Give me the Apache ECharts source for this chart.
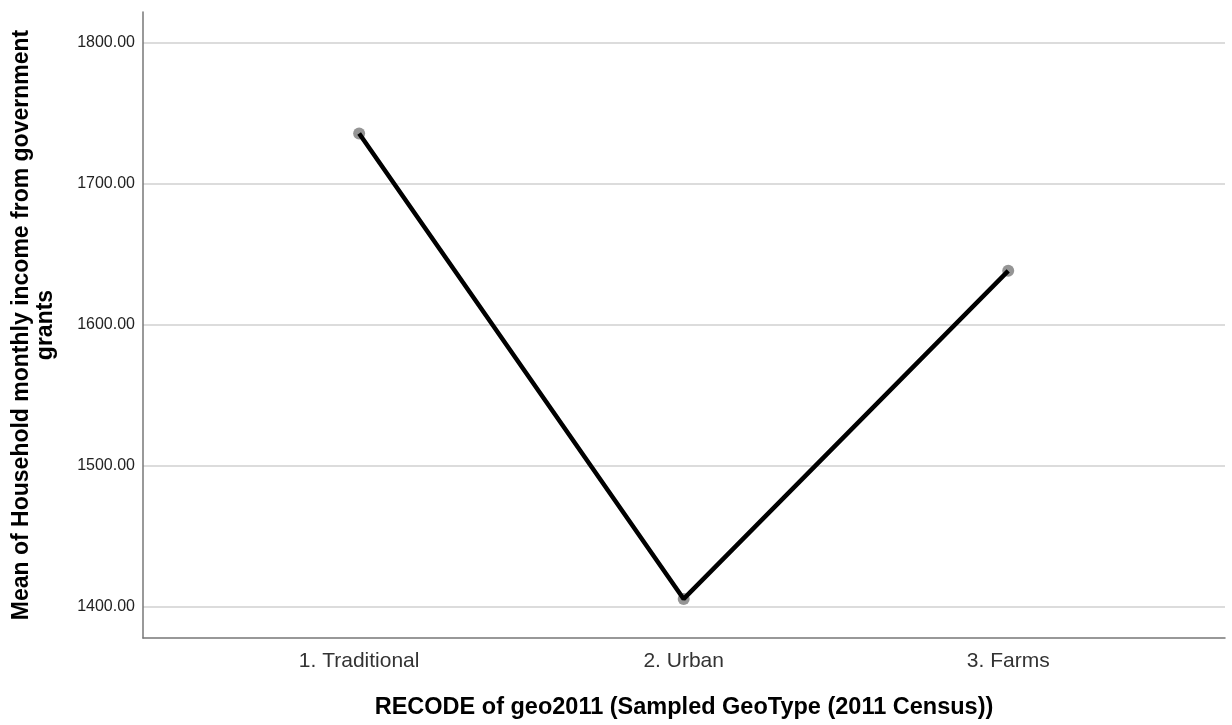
<!DOCTYPE html>
<html>
<head>
<meta charset="utf-8">
<script src="https://cdn.jsdelivr.net/npm/echarts@6/dist/echarts.min.js"></script>
<style>
html,body{margin:0;padding:0;background:#fff;}
#chart{width:1232px;height:725px;}
</style>
</head>
<body>
<div id="chart"></div>
<script>
const categories = ['1. Traditional', '2. Urban', '3. Farms'];
const meanIncome = [1735.8, 1405.7, 1638.4];
const yTickValues = [1400, 1500, 1600, 1700, 1800];
const xTickValues = [0, 1, 2];

const points = categories.map((c, i) => [i, meanIncome[i]]);
const FONT = "'Liberation Sans', Arial, sans-serif";

const chart = echarts.init(document.getElementById('chart'));
chart.setOption({
  animation: false,
  backgroundColor: '#ffffff',
  grid: { left: 143, right: 7, top: 12, bottom: 87, containLabel: false, outerBoundsMode: 'none' },
  xAxis: {
    type: 'value',
    min: -0.666,
    max: 2.668,
    name: 'RECODE of geo2011 (Sampled GeoType (2011 Census))',
    nameLocation: 'middle',
    nameGap: 58,
    nameTextStyle: { fontFamily: FONT, fontSize: 23.5, fontWeight: 'bold', color: '#000' },
    axisLine: { show: true, onZero: false, lineStyle: { color: '#777', width: 1.5 } },
    axisTick: { show: false, customValues: xTickValues },
    splitLine: { show: false },
    axisLabel: {
      customValues: xTickValues,
      margin: 13,
      fontFamily: FONT,
      fontSize: 21,
      color: '#333',
      formatter: v => categories[Math.round(v)] || ''
    }
  },
  yAxis: {
    type: 'value',
    min: 1378,
    max: 1822,
    name: 'Mean of Household monthly income from government\ngrants',
    nameLocation: 'middle',
    nameGap: 85,
    nameTextStyle: { fontFamily: FONT, fontSize: 23, fontWeight: 'bold', color: '#000', lineHeight: 24, align: 'center' },
    axisLine: { show: true, onZero: false, lineStyle: { color: '#777', width: 1.5 } },
    axisTick: { show: false, customValues: yTickValues },
    splitLine: { show: true, lineStyle: { color: '#d0d0d0', width: 1.5 } },
    axisLabel: {
      customValues: yTickValues,
      margin: 8,
      fontFamily: FONT,
      fontSize: 16,
      color: '#222',
      formatter: v => v.toFixed(2)
    }
  },
  series: [
    {
      type: 'scatter',
      data: points,
      symbol: 'circle',
      symbolSize: 12,
      itemStyle: { color: '#7a7a7a' },
      z: 2,
      silent: true
    },
    {
      type: 'line',
      data: points,
      showSymbol: false,
      symbol: 'none',
      lineStyle: { color: '#000', width: 4.5 },
      z: 3,
      silent: true
    }
  ]
});
</script>
</body>
</html>
